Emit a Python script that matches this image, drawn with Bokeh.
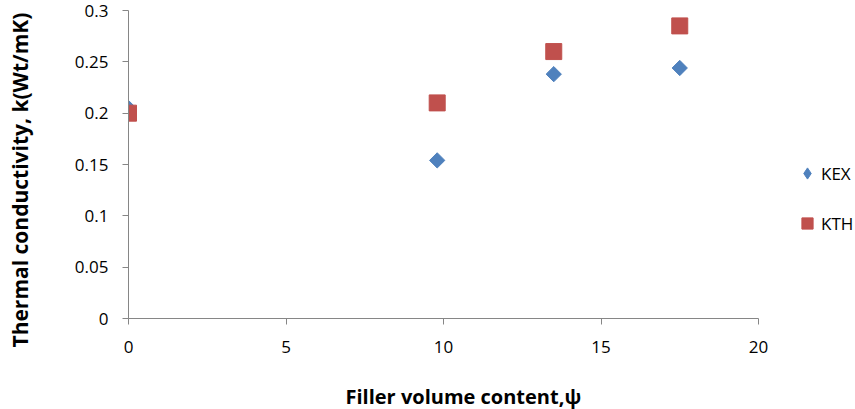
import math
from bokeh.plotting import figure
from bokeh.models import Legend, LegendItem, FixedTicker, Range1d, Title
from bokeh.embed import file_html
from bokeh.resources import INLINE

# data
kex_x = [0, 9.8, 13.5, 17.5]
kex_y = [0.205, 0.154, 0.238, 0.244]
kth_x = [0, 9.8, 13.5, 17.5]
kth_y = [0.200, 0.210, 0.260, 0.285]

x_ticks = [0, 5, 10, 15, 20]
y_ticks = [0, 0.05, 0.1, 0.15, 0.2, 0.25, 0.3]
y_tick_labels = ["0", "0.05", "0.1", "0.15", "0.2", "0.25", "0.3"]
x_axis_max = 20
x_title = "Filler volume content,ψ"
y_title = "Thermal conductivity, k(Wt/mK)"

FONT = "Open Sans"
BLUE = "#4F81BD"
RED = "#C0504D"

# layout (pixels)
W, H = 855, 409
LEFT, TOP, BOTTOM = 128, 10, 91
AXIS_RIGHT = 758  # pixel where x = 20 sits; frame extends further to host the legend
x_end = x_axis_max * (W - LEFT) / (AXIS_RIGHT - LEFT)

p = figure(width=W, height=H, output_backend="svg", toolbar_location=None,
           x_range=Range1d(0, x_end), y_range=Range1d(0, 0.3),
           min_border_left=LEFT, min_border_right=0, min_border_top=TOP, min_border_bottom=BOTTOM)
p.outline_line_color = None
p.xgrid.grid_line_color = None
p.ygrid.grid_line_color = None
p.background_fill_color = "white"
p.border_fill_color = "white"

kex = p.scatter(kex_x, kex_y, marker="square", size=10.8, angle=math.pi / 4,
                fill_color=BLUE, line_color=BLUE)
kth = p.scatter(kth_x, kth_y, marker="square", size=16,
                fill_color=RED, line_color=RED)
# legend-only swatch (legend markers ignore angle, so use a diamond marker; NaN => not drawn in plot)
kex_sw = p.scatter(x=[float("nan")], y=[float("nan")], marker="diamond", size=10,
                   fill_color=BLUE, line_color=BLUE)

for ax in (p.xaxis[0], p.yaxis[0]):
    ax.axis_line_color = "#868686"
    ax.major_tick_line_color = "#868686"
    ax.minor_tick_line_color = None
    ax.major_tick_in = 0
    ax.major_tick_out = 6
    ax.major_label_text_font = FONT
    ax.major_label_text_font_size = "17px"
    ax.major_label_text_color = "black"
    # blank axis labels used only as spacers before the titles
    ax.axis_label = " "
    ax.axis_label_text_font_size = "10px"

p.xaxis.bounds = (0, x_axis_max)
p.xaxis.ticker = FixedTicker(ticks=x_ticks)
p.yaxis.ticker = FixedTicker(ticks=y_ticks)
p.yaxis.major_label_overrides = {t: l for t, l in zip(y_ticks, y_tick_labels)}
p.xaxis.major_label_standoff = 16
p.yaxis.major_label_standoff = 14
p.xaxis.axis_label_standoff = 11
p.yaxis.axis_label_standoff = 24

xt = Title(text=x_title, align="left", offset=217, vertical_align="bottom", standoff=0,
           text_font=FONT, text_font_size="20px", text_font_style="bold", text_color="black")
p.add_layout(xt, "below")
yt = Title(text=y_title, align="left", offset=-29, vertical_align="bottom", standoff=0,
           text_font=FONT, text_font_size="21px", text_font_style="bold", text_color="black")
p.add_layout(yt, "left")

legend = Legend(items=[LegendItem(label="KEX", renderers=[kex_sw]),
                       LegendItem(label="KTH", renderers=[kth])],
                location=(665, 81), orientation="vertical")
legend.border_line_color = None
legend.background_fill_alpha = 0
legend.padding = 0
legend.margin = 0
legend.spacing = 22
legend.glyph_height = 28
legend.glyph_width = 28
legend.label_height = 28
legend.label_standoff = 0
legend.label_text_font = FONT
legend.label_text_font_size = "17px"
legend.label_text_color = "black"
p.add_layout(legend, "center")

open("out.html", "w").write(file_html(p, INLINE))
